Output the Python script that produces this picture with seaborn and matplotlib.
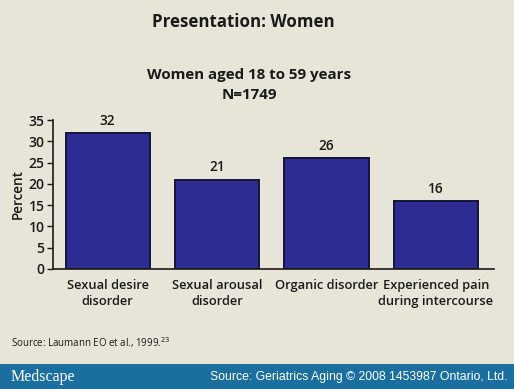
import numpy as np
import pandas as pd
import seaborn as sns
import matplotlib.pyplot as plt
from matplotlib.patches import Rectangle

categories = ["Sexual desire\ndisorder", "Sexual arousal\ndisorder",
              "Organic disorder", "Experienced pain\nduring intercourse"]
percent = [32, 21, 26, 16]

bg = "#e7e5d7"
bar_color = "#2d2c92"

sns.set_style("white")
plt.rcParams["font.family"] = ["Open Sans", "DejaVu Sans"]

df = pd.DataFrame({"category": categories, "percent": percent})

fig = plt.figure(figsize=(5.14, 3.89), dpi=100, facecolor=bg)
ax = fig.add_axes([0.103, 0.3085, 0.858, 0.383])
ax.set_facecolor(bg)

sns.barplot(data=df, x="category", y="percent", color=bar_color,
            width=0.77, edgecolor="#15153a", linewidth=1.4,
            saturation=1, ax=ax)

for i, v in enumerate(percent):
    ax.text(i, v + 1.2, str(v), ha="center", va="bottom",
            fontsize=9.8, fontweight="semibold", color="#1a1a1a")

ax.set_xlim(-0.5, 3.53)
ax.set_ylim(0, 35)
ax.set_yticks(range(0, 36, 5))
ax.tick_params(axis="y", length=4, width=1, color="#1a1a1a", labelsize=10,
               labelcolor="#1a1a1a", pad=2, left=True)
ax.tick_params(axis="x", length=0, labelsize=9.3, labelcolor="#1a1a1a", pad=7)
for lab in ax.get_xticklabels() + ax.get_yticklabels():
    lab.set_fontweight("semibold")
for lab in ax.get_xticklabels():
    lab.set_linespacing(1.35)
ax.set_xlabel("")
ax.set_ylabel("Percent", fontsize=9.8, fontweight="semibold", color="#1a1a1a",
              labelpad=3)
sns.despine(ax=ax)
for s in ["left", "bottom"]:
    ax.spines[s].set_color("#1a1a1a")
    ax.spines[s].set_linewidth(1.2)

fig.text(0.473, 0.943, "Presentation: Women", ha="center", va="center",
         fontsize=12.2, fontweight="bold", color="#1a1a1a")
fig.text(0.485, 0.808, "Women aged 18 to 59 years", ha="center", va="center",
         fontsize=10.9, fontweight="bold", color="#1a1a1a")
fig.text(0.485, 0.755, "N=1749", ha="center", va="center",
         fontsize=10.9, fontweight="bold", color="#1a1a1a")

fig.text(0.022, 0.118, r"Source: Laumann EO et al., 1999.$^{23}$", ha="left",
         va="center", fontsize=7, color="#1a1a1a")

fig.add_artist(Rectangle((0, 0), 1, 25 / 389, transform=fig.transFigure,
                         facecolor="#1b6ea0", edgecolor="none"))
fig.text(0.02, 0.032, "Medscape", ha="left", va="center", fontsize=11.5,
         family="Liberation Serif", color="white")
fig.text(0.988, 0.032, "Source: Geriatrics Aging \u00a9 2008 1453987 Ontario, Ltd.",
         ha="right", va="center", fontsize=8.8, family="Liberation Sans",
         color="white")

fig.savefig("out.png", dpi=100, facecolor=bg)
